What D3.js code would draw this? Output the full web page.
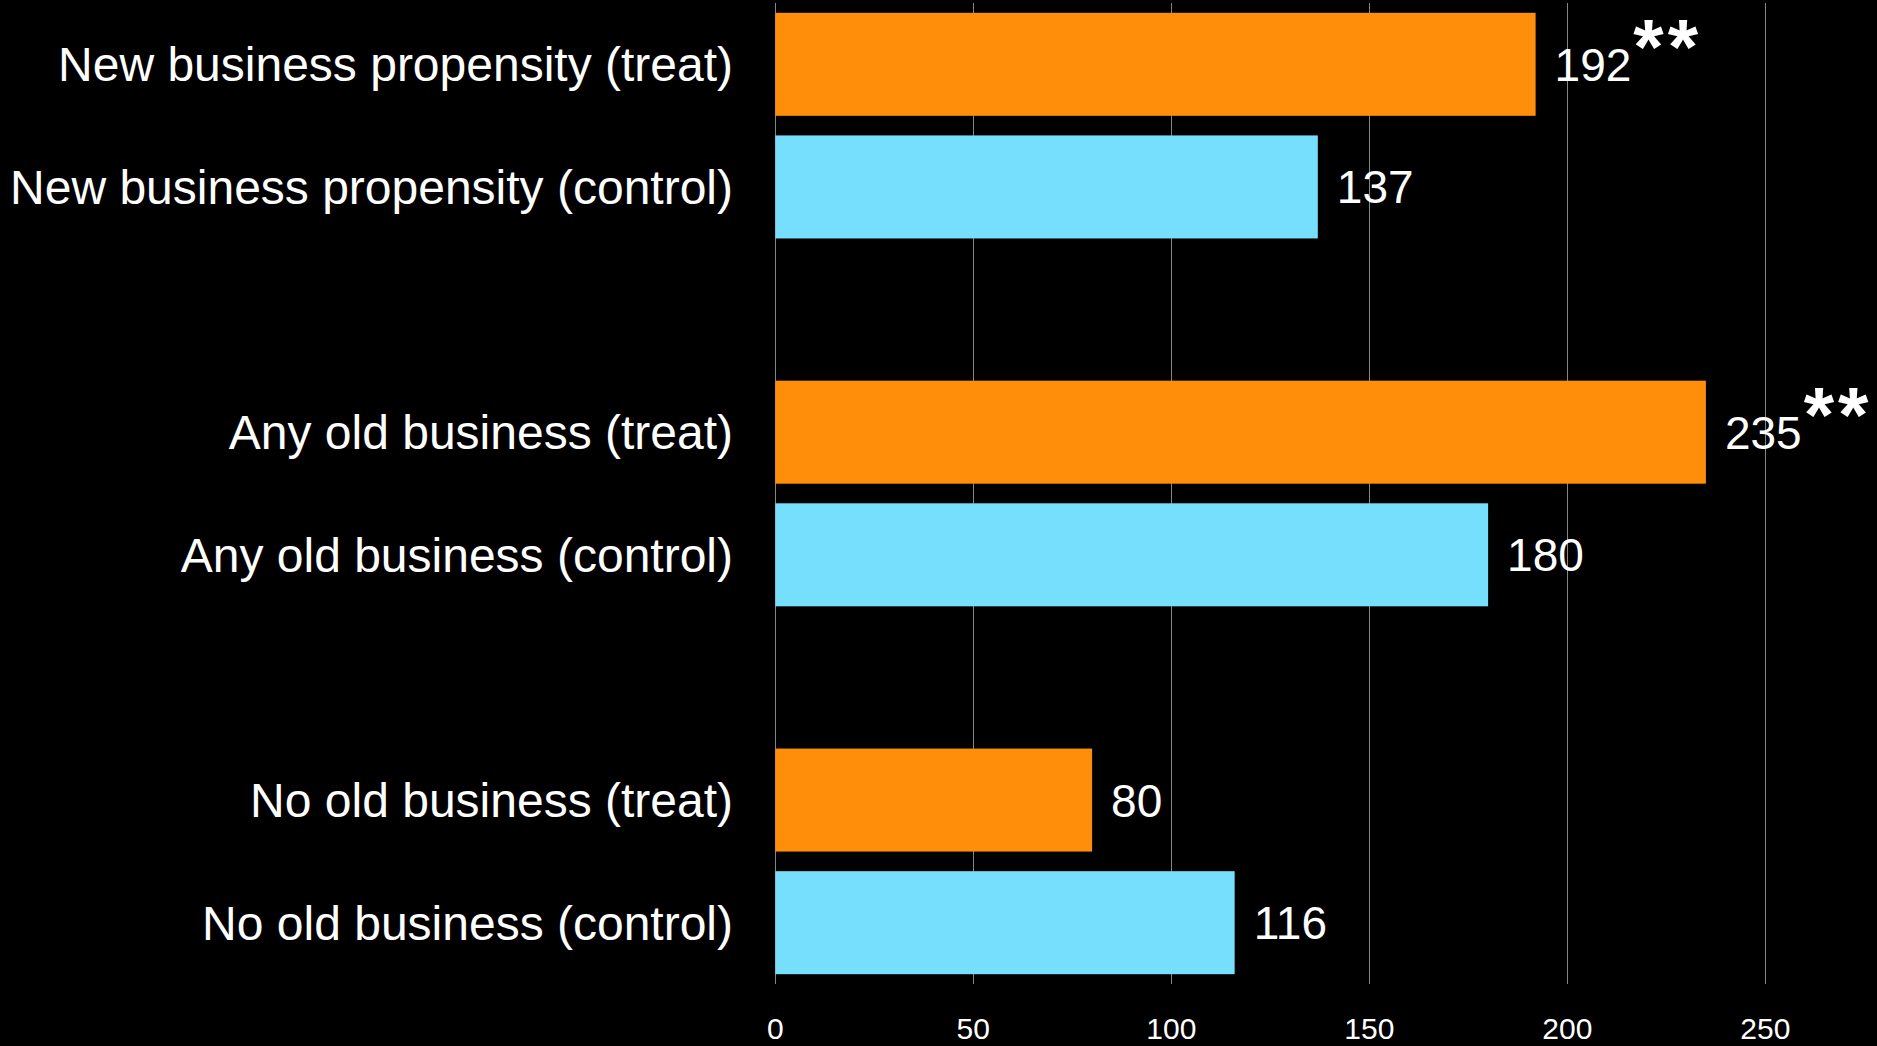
<!DOCTYPE html>
<html>
<head>
<meta charset="utf-8">
<script src="https://cdn.jsdelivr.net/npm/d3@7"></script>
<style>
  html, body { margin: 0; padding: 0; background: #000; }
  svg { display: block; }
  text { font-family: "Liberation Sans", Arial, sans-serif; fill: #fff; }
</style>
</head>
<body>
<svg id="chart" width="1877" height="1046"></svg>
<script>
// Groups, drawn top to bottom, each with a treated and a control bar
const groups = ["New business propensity", "Any old business", "No old business"];
const treatValues = [192, 235, 80];
const controlValues = [137, 180, 116];
const significance = ["**", "**", ""];
const tickValues = [0, 50, 100, 150, 200, 250];

const colors = { treat: "#FF8E0B", control: "#76DFFE" };

// Rows for the band scale: two bars per group, an empty slot between groups
const rows = [];
groups.forEach((g, i) => {
  rows.push({ key: g + " (treat)", value: treatValues[i], kind: "treat", mark: significance[i] });
  rows.push({ key: g + " (control)", value: controlValues[i], kind: "control", mark: "" });
  if (i < groups.length - 1) rows.push({ key: "gap" + i, value: null });
});

const svg = d3.select("#chart");
const W = 1877, H = 1046;
svg.append("rect").attr("width", W).attr("height", H).attr("fill", "#000");

const x = d3.scaleLinear().domain([0, 250]).range([775.3, 1765.3]);
const y = d3.scaleBand()
  .domain(rows.map(r => r.key))
  .range([3, 984])
  .paddingInner(0.16)
  .paddingOuter(0.08);

// Vertical gridlines
svg.append("g")
  .selectAll("line")
  .data(tickValues)
  .join("line")
  .attr("x1", d => Math.round(x(d)) + 0.5)
  .attr("x2", d => Math.round(x(d)) + 0.5)
  .attr("y1", 3)
  .attr("y2", 984)
  .attr("stroke", "#858585")
  .attr("stroke-width", 1);

// Tick labels along the bottom
svg.append("g")
  .selectAll("text")
  .data(tickValues)
  .join("text")
  .attr("x", d => x(d))
  .attr("y", 1039)
  .attr("text-anchor", "middle")
  .attr("font-size", 30)
  .text(d => d);

const bars = rows.filter(r => r.value !== null);

// Bars
svg.append("g")
  .selectAll("rect")
  .data(bars)
  .join("rect")
  .attr("x", x(0))
  .attr("y", d => y(d.key))
  .attr("width", d => x(d.value) - x(0))
  .attr("height", y.bandwidth())
  .attr("fill", d => colors[d.kind]);

// Category labels
const labelSize = 48;
svg.append("g")
  .selectAll("text")
  .data(bars)
  .join("text")
  .attr("x", 733)
  .attr("y", d => y(d.key) + y.bandwidth() / 2 + labelSize * 0.358)
  .attr("text-anchor", "end")
  .attr("font-size", labelSize)
  .text(d => d.key);

// Value labels with significance stars
const valueSize = 46;
const vl = svg.append("g")
  .selectAll("text")
  .data(bars)
  .join("text")
  .attr("x", d => x(d.value) + 19)
  .attr("y", d => y(d.key) + y.bandwidth() / 2 + valueSize * 0.36)
  .attr("font-size", valueSize);
vl.append("tspan").text(d => d.value);
vl.filter(d => d.mark)
  .append("tspan")
  .attr("dx", 2)
  .attr("dy", -7)
  .attr("font-size", 78)
  .attr("font-weight", "bold")
  .attr("letter-spacing", 4)
  .text(d => d.mark);
</script>
</body>
</html>
